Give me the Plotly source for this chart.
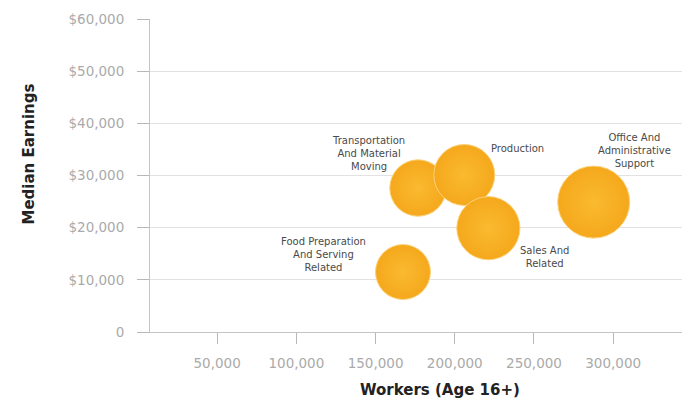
import plotly.graph_objects as go

occupations = ["Transportation<br>And Material<br>Moving", "Production", "Sales And<br>Related",
               "Office And<br>Administrative<br>Support", "Food Preparation<br>And Serving<br>Related"]
workers = [176800, 206000, 221200, 287700, 167300]
earnings = [27600, 30100, 19900, 24900, 11500]

y_tickvals = [0, 10000, 20000, 30000, 40000, 50000, 60000]
y_ticktext = ["0", "$10,000", "$20,000", "$30,000", "$40,000", "$50,000", "$60,000"]
x_tickvals = [50000, 100000, 150000, 200000, 250000, 300000]
x_ticktext = ["50,000", "100,000", "150,000", "200,000", "250,000", "300,000"]

# label placement (pixel offsets from the bubble centre)
label_shift = [(-50, 35), (53, 26), (56, -29), (41, 52), (-79, 18)]

max_d = 72
fig = go.Figure()
fig.add_trace(go.Scatter(
    x=workers, y=earnings, mode="markers",
    marker=dict(size=workers, sizemode="area", sizeref=2 * max(workers) / max_d ** 2,
                color="#F5A81C",
                gradient=dict(type="radial", color="#FABA30"),
                line=dict(width=1, color="#FCD27A"), opacity=1),
    hoverinfo="skip", showlegend=False,
))

for x, y, t, (dx, dy) in zip(workers, earnings, occupations, label_shift):
    fig.add_annotation(x=x, y=y, text=t, showarrow=False, xshift=dx, yshift=dy,
                       align="center", font=dict(size=10, color="#4a4a4a", family="DejaVu Sans"))

fig.add_annotation(xref="paper", yref="paper", x=0, y=0.567, xshift=-121, textangle=-90,
                   text="<b>Median Earnings</b>", showarrow=False, xanchor="center", yanchor="middle",
                   font=dict(size=15, color="#222222", family="DejaVu Sans"))
fig.add_annotation(xref="paper", yref="paper", x=0.54, y=0, yshift=-58,
                   text="<b>Workers (Age 16+)</b>", showarrow=False, xanchor="center", yanchor="middle",
                   font=dict(size=15, color="#222222", family="DejaVu Sans"))

fig.update_layout(
    width=682, height=398,
    margin=dict(l=142, r=3, t=11, b=74),
    plot_bgcolor="white", paper_bgcolor="white",
    font=dict(family="DejaVu Sans", color="#aaaaaa"),
    xaxis=dict(range=[7600, 346600], tickvals=x_tickvals, ticktext=x_ticktext,
               showgrid=False, zeroline=False, showline=True, linecolor="#c4c4c4", linewidth=1,
               ticks="outside", ticklen=11, tickcolor="#b8b8b8",
               tickfont=dict(size=13.5, color="#aaaaaa"), ticklabelstandoff=8),
    yaxis=dict(range=[0, 60000], tickvals=y_tickvals, ticktext=y_ticktext,
               showgrid=True, gridcolor="#e2e2e2", zeroline=False, showline=True,
               linecolor="#c4c4c4", linewidth=1,
               ticks="outside", ticklen=12, tickcolor="#b8b8b8",
               tickfont=dict(size=13.5, color="#aaaaaa"), ticklabelstandoff=10),
)

fig.write_html("out.html")
